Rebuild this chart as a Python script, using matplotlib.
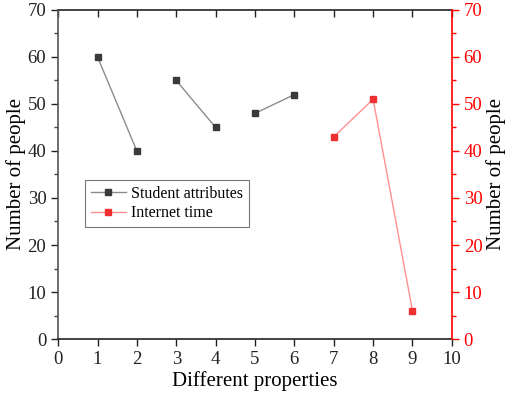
import numpy as np
import matplotlib.pyplot as plt
from matplotlib.ticker import MultipleLocator

plt.rcParams['font.family'] = ['Liberation Serif', 'DejaVu Serif']

# data
student_x = [1, 2, 3, 4, 5, 6]
student_y = [60, 40, 55, 45, 48, 52]
student_pairs = [(0, 2), (2, 4), (4, 6)]  # points are joined in pairs only

internet_x = [7, 8, 9]
internet_y = [43, 51, 6]

x_ticks = list(range(0, 11))
y_ticks = list(range(0, 71, 10))


def main():
    fig = plt.figure(figsize=(5.1, 3.97), dpi=100)
    ax = fig.add_axes([0.114, 0.146, 0.772, 0.829])
    ax2 = ax.twinx()

    for k, (a, b) in enumerate(student_pairs):
        ax.plot(student_x[a:b], student_y[a:b], color='#8c8c8c', lw=1,
                marker='s', ms=5, mfc='#3a3a3a', mec='#3a3a3a',
                label='Student attributes' if k == 0 else None)
    ax.plot(internet_x, internet_y, color='#ff9090', lw=1,
            marker='s', ms=5, mfc='#f03030', mec='#f03030',
            label='Internet time')

    ax.set_xlim(0, 10)
    ax.set_ylim(0, 70)
    ax2.set_ylim(0, 70)
    ax.set_xticks(x_ticks)
    ax.set_yticks(y_ticks)
    ax2.set_yticks(y_ticks)
    ax.yaxis.set_minor_locator(MultipleLocator(5))
    ax2.yaxis.set_minor_locator(MultipleLocator(5))

    ax.tick_params(axis='both', labelsize=13.5, direction='out', length=5,
                   width=1, colors='#222222')
    ax.tick_params(axis='y', which='minor', direction='out', length=3,
                   width=1, colors='#444444')

    # top spine: inward ticks, no labels
    top = ax.secondary_xaxis('top')
    top.set_xticks(x_ticks)
    top.tick_params(direction='in', length=5, width=1, labeltop=False,
                    colors='#222222')
    top.spines['top'].set_linewidth(1.2)
    top.spines['top'].set_color('#222222')

    ax2.tick_params(axis='y', labelsize=13.5, direction='out', length=5,
                    width=1, colors='red', labelcolor='red')
    ax2.tick_params(axis='y', which='minor', direction='out', length=3,
                    width=1, colors='red')
    ax2.spines['right'].set_color('red')
    ax2.spines['right'].set_linewidth(1.2)
    for s in ['left', 'top', 'bottom']:
        ax2.spines[s].set_visible(False)

    ax.spines['top'].set_visible(False)
    ax.spines['right'].set_visible(False)
    ax.spines['bottom'].set_linewidth(1.2)
    ax.spines['bottom'].set_color('#222222')
    ax.spines['left'].set_linewidth(1.2)
    ax.spines['left'].set_color('#555555')

    ax.set_xlabel('Different properties', fontsize=15, labelpad=2)
    ax.set_ylabel('Number of people', fontsize=15, labelpad=1)
    ax2.set_ylabel('Number of people', fontsize=15, labelpad=3)

    leg = ax.legend(loc='upper left', bbox_to_anchor=(0.068, 0.482),
                    fontsize=11.5, frameon=True, fancybox=False,
                    handlelength=2.2, handletextpad=0.35, borderpad=0.35,
                    labelspacing=0.2, borderaxespad=0)
    leg.get_frame().set_edgecolor('#555555')
    leg.get_frame().set_linewidth(0.8)

    fig.savefig('out.png', dpi=100)


if __name__ == '__main__':
    main()
